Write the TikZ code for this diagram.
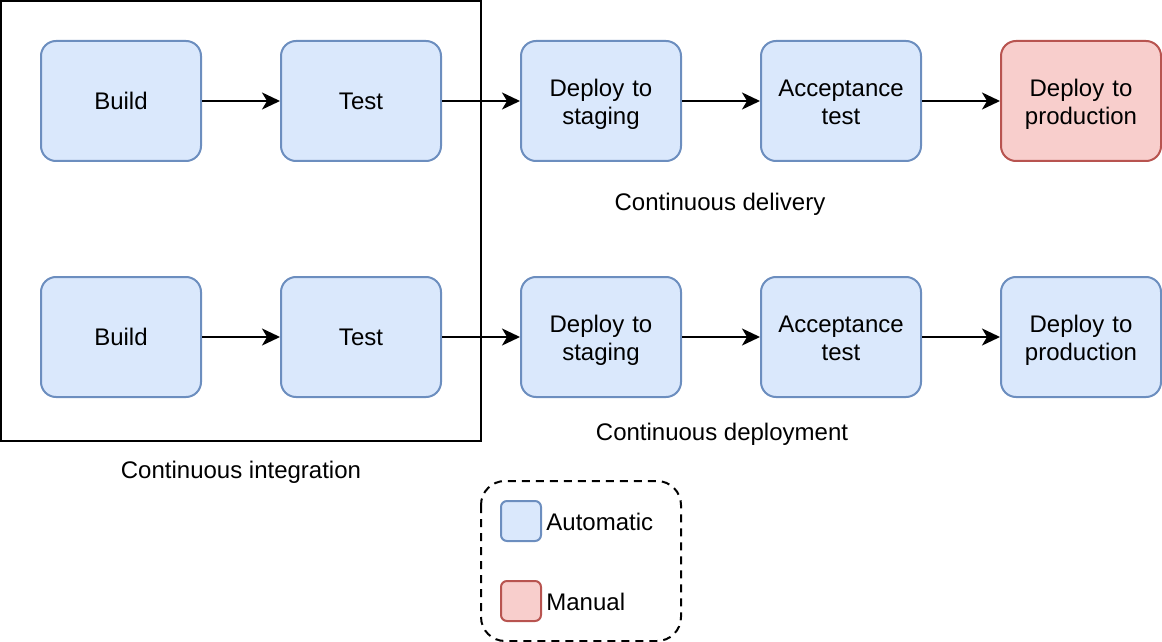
\documentclass[tikz,border=0pt]{standalone}
\usepackage{fontspec}
\setmainfont{Liberation Sans}
\usetikzlibrary{arrows.meta}
\definecolor{autofill}{HTML}{DAE8FC}
\definecolor{autostroke}{HTML}{6C8EBF}
\definecolor{manfill}{HTML}{F8CECC}
\definecolor{manstroke}{HTML}{B85450}
\tikzset{
  stagebox/.style={draw=autostroke, fill=autofill, line width=1pt, rounded corners=7.5pt,
    minimum width=80pt, minimum height=60pt, inner sep=0pt, align=center, text width=78pt,
    font=\fontsize{12}{14}\selectfont},
  twoline/.style={text height=11.8pt},
  twolinenodesc/.style={text height=9.8pt},
  manualbox/.style={stagebox, draw=manstroke, fill=manfill},
  flow/.style={line width=1pt, -{Stealth[length=9pt,width=8.5pt,inset=2.5pt]}},
  lbl/.style={font=\fontsize{12}{14}\selectfont, inner sep=0pt, text depth=0pt},
  legbox/.style={draw=autostroke, fill=autofill, line width=1pt, rounded corners=3pt,
    minimum width=20pt, minimum height=20pt, inner sep=0pt},
}
\begin{document}
\begin{tikzpicture}[x=0.5pt,y=-0.5pt]
\useasboundingbox (0,0) rectangle (1162,642);
% CI frame
\draw[line width=1pt] (1,1) rectangle (481,441);
\node[lbl] (cilbl) at (241,470) {Continuous integration};
% Row 1
\node[stagebox] (b1) at (121,101) {Build};
\node[stagebox] (t1) at (361,101) {Test};
\node[stagebox, twoline] (s1) at (601,101) {Deploy to\\staging};
\node[stagebox, twolinenodesc] (a1) at (841,101) {Acceptance\\test};
\node[manualbox, twoline] (p1) at (1081,101) {Deploy to\\production};
\draw[flow] (b1) -- (t1);
\draw[flow] (t1) -- (s1);
\draw[flow] (s1) -- (a1);
\draw[flow] (a1) -- (p1);
\node[lbl] (cdlbl) at (720,202) {Continuous delivery};
% Row 2
\node[stagebox] (b2) at (121,337) {Build};
\node[stagebox] (t2) at (361,337) {Test};
\node[stagebox, twoline] (s2) at (601,337) {Deploy to\\staging};
\node[stagebox, twolinenodesc] (a2) at (841,337) {Acceptance\\test};
\node[stagebox, twoline] (p2) at (1081,337) {Deploy to\\production};
\draw[flow] (b2) -- (t2);
\draw[flow] (t2) -- (s2);
\draw[flow] (s2) -- (a2);
\draw[flow] (a2) -- (p2);
\node[lbl] (cdplbl) at (722,432) {Continuous deployment};
% Legend
\draw[line width=1pt, dashed, dash pattern=on 4pt off 3pt, rounded corners=12pt] (481,481) rectangle (681,641);
\node[legbox] (la) at (521,521) {};
\node[legbox, draw=manstroke, fill=manfill] (lm) at (521,601) {};
\node[lbl, anchor=west] (lal) at (546,522) {Automatic};
\node[lbl, anchor=west] (lml) at (546,602) {Manual};
\end{tikzpicture}
\end{document}
